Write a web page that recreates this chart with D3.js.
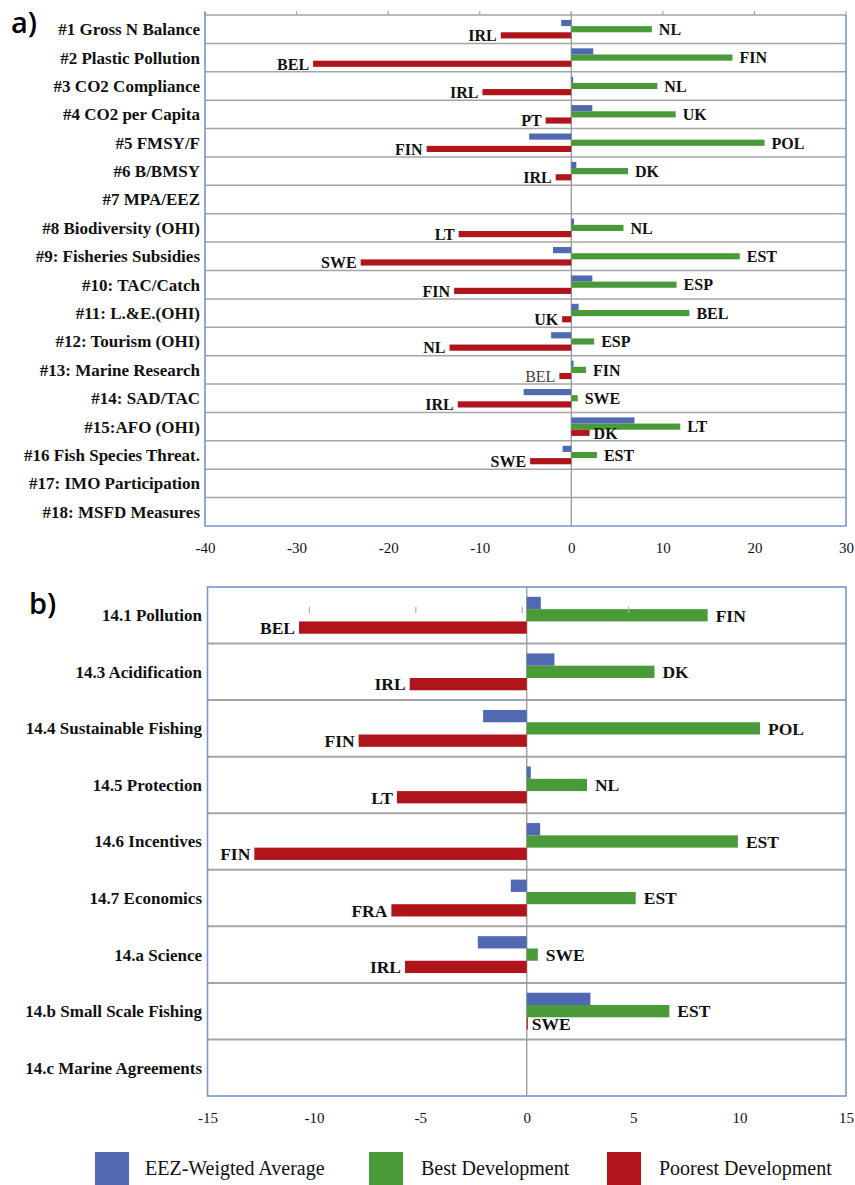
<!DOCTYPE html>
<html>
<head>
<meta charset="utf-8">
<script src="https://d3js.org/d3.v7.min.js"></script>
<style>
    body { margin: 0; background: #fff; }
</style>
</head>
<body>
<svg id="mysvg" width="855" height="1185"></svg>
<script>
// Panel a) indicators
var catsA = ["#1 Gross N Balance", "#2 Plastic Pollution", "#3 CO2 Compliance", "#4 CO2 per Capita",
    "#5 FMSY/F", "#6 B/BMSY", "#7 MPA/EEZ", "#8 Biodiversity (OHI)", "#9: Fisheries Subsidies",
    "#10: TAC/Catch", "#11: L.&E.(OHI)", "#12: Tourism (OHI)", "#13: Marine Research", "#14: SAD/TAC",
    "#15:AFO (OHI)", "#16 Fish Species Threat.", "#17: IMO Participation", "#18: MSFD Measures"];
var avgA = [-1.1, 2.4, 0.2, 2.3, -4.6, 0.55, null, 0.3, -2.0, 2.3, 0.8, -2.2, 0.25, -5.2, 6.9, -0.95, null, null];
var bestA = [8.8, 17.6, 9.4, 11.4, 21.1, 6.2, null, 5.7, 18.4, 11.5, 12.9, 2.5, 1.6, 0.7, 11.9, 2.8, null, null];
var poorA = [-7.7, -28.2, -9.7, -2.8, -15.8, -1.7, null, -12.3, -23.0, -12.8, -1.0, -13.3, -1.3, -12.4, 2.0, -4.5, null, null];
var bestLabA = ["NL", "FIN", "NL", "UK", "POL", "DK", "", "NL", "EST", "ESP", "BEL", "ESP", "FIN", "SWE", "LT", "EST", "", ""];
var poorLabA = ["IRL", "BEL", "IRL", "PT", "FIN", "IRL", "", "LT", "SWE", "FIN", "UK", "NL", "BEL", "IRL", "DK", "SWE", "", ""];
var ticksA = [-40, -30, -20, -10, 0, 10, 20, 30];

// Panel b) SDG 14 targets
var catsB = ["14.1 Pollution", "14.3 Acidification", "14.4 Sustainable Fishing", "14.5 Protection",
    "14.6 Incentives", "14.7 Economics", "14.a Science", "14.b Small Scale Fishing", "14.c Marine Agreements"];
var avgB = [0.66, 1.3, -2.05, 0.19, 0.63, -0.75, -2.3, 2.99, null];
var bestB = [8.5, 6.0, 10.96, 2.83, 9.92, 5.12, 0.52, 6.7, null];
var poorB = [-10.7, -5.5, -7.9, -6.1, -12.8, -6.36, -5.72, 0.05, null];
var bestLabB = ["FIN", "DK", "POL", "NL", "EST", "EST", "SWE", "EST", ""];
var poorLabB = ["BEL", "IRL", "FIN", "LT", "FIN", "FRA", "IRL", "SWE", ""];
var ticksB = [-15, -10, -5, 0, 5, 10, 15];

var seriesNames = ["EEZ-Weigted Average", "Best Development", "Poorest Development"];
var colors = ["#5169b3", "#4b9a39", "#b0151c"];
var frameColor = "#7f92d2";
var gridColor = "#a5a5a5";
var serif = "'Liberation Serif', 'Times New Roman', Times, 'DejaVu Serif', serif";

var svg = d3.select("svg");

function drawPanel(p) {
    var x = d3.scaleLinear().domain(p.domain).range([p.left, p.right]);
    var y = d3.scaleBand().domain(p.cats).range([p.top, p.bottom]);
    var inner = d3.scaleBand().domain([0, 1, 2]).range([0, y.bandwidth()]).paddingOuter(0.8);
    var g = svg.append("g");

    // Row separators
    g.selectAll(".row").data(p.cats.slice(1))
        .enter().append("line")
        .attr("x1", p.left).attr("x2", p.right)
        .attr("y1", function (d) { return y(d); })
        .attr("y2", function (d) { return y(d); })
        .attr("stroke", gridColor).attr("stroke-width", p.gridW);

    // zero line
    g.append("line")
        .attr("x1", x(0)).attr("x2", x(0))
        .attr("y1", p.top - (p.topTicks ? 3 : 0)).attr("y2", p.bottom)
        .attr("stroke", "#999").attr("stroke-width", 1.3);

    // Bars for the three series
    var series = [p.avg, p.best, p.poor];
    series.forEach(function (vals, s) {
        vals.forEach(function (v, i) {
            if (v === null) return;
            g.append("rect")
                .attr("x", x(Math.min(0, v)))
                .attr("width", Math.abs(x(v) - x(0)))
                .attr("y", y(p.cats[i]) + inner(s))
                .attr("height", inner.bandwidth())
                .attr("fill", colors[s]);
        });
    });

    // country labels at bar ends
    [[p.best, p.bestLab, 1], [p.poor, p.poorLab, 2]].forEach(function (arr) {
        var vals = arr[0], labs = arr[1], s = arr[2];
        vals.forEach(function (v, i) {
            if (v === null || !labs[i]) return;
            var t = g.append("text")
                .attr("x", v < 0 ? x(v) - p.gap[s - 1] : x(v) + p.gap[s - 1])
                .attr("y", y(p.cats[i]) + inner(s) + inner.bandwidth() / 2)
                .attr("dy", "0.36em")
                .attr("text-anchor", v < 0 ? "end" : "start")
                .style("font-family", serif)
                .style("font-size", p.labSize + "px")
                .style("font-weight", "bold")
                .style("fill", "#111")
                .text(labs[i]);
            if (p.plainLab && p.plainLab(s, i)) {
                t.style("font-weight", "normal").style("fill", "#444");
            }
        });
    });

    // odd little tick marks inside the panel
    if (p.innerTicks) {
        g.selectAll(".itick").data(p.innerTicks)
            .enter().append("line")
            .attr("x1", function (d) { return x(d) - 4.5; })
            .attr("x2", function (d) { return x(d) - 4.5; })
            .attr("y1", p.top + 20).attr("y2", p.top + 26)
            .attr("stroke", "#aaa").attr("stroke-width", 1.2);
    }

    // Frame
    if (p.topTicks) {
        g.append("line").attr("x1", p.left).attr("x2", p.right)
            .attr("y1", p.top).attr("y2", p.top)
            .attr("stroke", gridColor).attr("stroke-width", 1.5);
        g.selectAll(".ttick").data(p.ticks)
            .enter().append("line")
            .attr("x1", function (d) { return x(d); })
            .attr("x2", function (d) { return x(d); })
            .attr("y1", p.top - 4).attr("y2", p.top)
            .attr("stroke", gridColor).attr("stroke-width", 1.2);
        g.append("path")
            .attr("d", "M" + p.left + "," + (p.top - 3) + "V" + p.bottom + "H" + p.right + "V" + p.top)
            .attr("fill", "none").attr("stroke", frameColor).attr("stroke-width", 1.6);
    } else {
        g.append("rect")
            .attr("x", p.left).attr("y", p.top)
            .attr("width", p.right - p.left).attr("height", p.bottom - p.top)
            .attr("fill", "none").attr("stroke", frameColor).attr("stroke-width", 1.6);
    }

    // Category labels
    g.selectAll(".cat").data(p.cats)
        .enter().append("text")
        .attr("x", p.catX)
        .attr("y", function (d) { return y(d) + y.bandwidth() / 2; })
        .attr("dy", "0.35em")
        .attr("text-anchor", "end")
        .style("font-family", serif)
        .style("font-size", p.catSize + "px")
        .style("font-weight", "bold")
        .style("fill", "#111")
        .text(function (d) { return d; });

    // x axis
    var ax = g.append("g")
        .attr("transform", "translate(0," + p.bottom + ")")
        .call(d3.axisBottom(x).tickValues(p.ticks).tickSize(0).tickPadding(16)
            .tickFormat(function (d) { return String(d); }));
    ax.select(".domain").remove();
    ax.selectAll("text")
        .style("font-family", serif)
        .style("font-size", "15px")
        .style("fill", "#111");

    // panel letter
    svg.append("text")
        .attr("x", p.letterX).attr("y", p.letterY)
        .style("font-family", "'Open Sans', sans-serif")
        .style("font-weight", "600")
        .style("font-size", "29px")
        .style("fill", "#000")
        .text(p.letter);
}

drawPanel({
    cats: catsA, avg: avgA, best: bestA, poor: poorA, bestLab: bestLabA, poorLab: poorLabA,
    domain: [-40, 30], ticks: ticksA,
    left: 205, right: 846, top: 15, bottom: 526,
    gridW: 1.5, labSize: 16, catSize: 17, catX: 200, gap: [7, 4],
    topTicks: true, letter: "a)", letterX: 11, letterY: 33,
    plainLab: function (s, i) { return s === 2 && i === 12; }
});

drawPanel({
    cats: catsB, avg: avgB, best: bestB, poor: poorB, bestLab: bestLabB, poorLab: poorLabB,
    domain: [-15, 15], ticks: ticksB,
    left: 207.5, right: 846, top: 587, bottom: 1096,
    gridW: 2, labSize: 17.5, catSize: 17, catX: 202, gap: [8, 4],
    topTicks: false, innerTicks: [-10, -5, 0, 5], letter: "b)", letterX: 29, letterY: 614
});

// Legend
var legendX = [95, 369, 607];
var legend = svg.selectAll(".legend").data(seriesNames)
    .enter().append("g")
    .attr("transform", function (d, i) { return "translate(" + legendX[i] + ",1152)"; });
legend.append("rect")
    .attr("width", 34).attr("height", 36)
    .attr("fill", function (d, i) { return colors[i]; });
legend.append("text")
    .attr("x", function (d, i) { return i === 0 ? 50 : 52; })
    .attr("y", 16)
    .attr("dy", "0.35em")
    .style("font-family", serif)
    .style("font-size", "20px")
    .style("fill", "#111")
    .text(function (d) { return d; });
</script>
</body>
</html>
